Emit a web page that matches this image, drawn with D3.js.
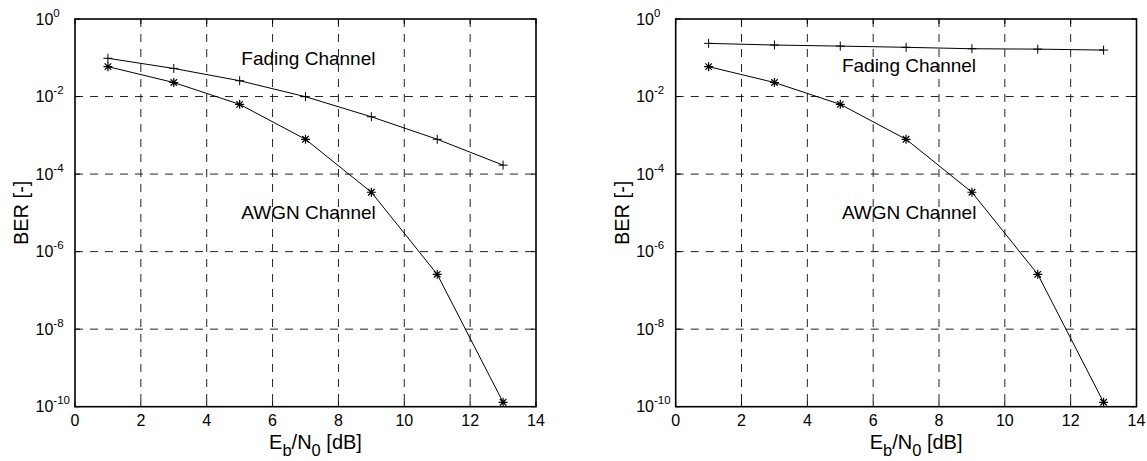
<!DOCTYPE html>
<html>
<head>
<meta charset="utf-8">
<script src="https://cdn.jsdelivr.net/npm/d3@7"></script>
<style>
  html, body { margin: 0; padding: 0; background: #fff; }
  svg { display: block; font-family: "Liberation Sans", Arial, sans-serif; }
</style>
</head>
<body>
<svg id="chart" width="1147" height="461"></svg>
<script>
// ---- data ----
const ebn0 = [1, 3, 5, 7, 9, 11, 13];
const awgnBer = [0.059, 0.023, 0.0063, 7.9e-4, 3.4e-5, 2.6e-7, 1.3e-10];
const fadingBerLeft = [0.097, 0.053, 0.0256, 0.0099, 0.0030, 7.9e-4, 1.7e-4];
const fadingBerRight = [0.235, 0.213, 0.200, 0.186, 0.171, 0.167, 0.158];
const xTicks = [0, 2, 4, 6, 8, 10, 12, 14];
const yTickExponents = [0, -2, -4, -6, -8, -10];
const labelFading = "Fading Channel";
const labelAwgn = "AWGN Channel";
// label anchor positions in data coordinates [x, y]
const fadingLabelPosLeft = [5.05, 0.065];
const fadingLabelPosRight = [5.05, 0.042];
const awgnLabelPos = [5.05, 6.9e-6];

const panels = [
  { left: 75, right: 536, fading: fadingBerLeft, fadingLabel: fadingLabelPosLeft },
  { left: 675.7, right: 1136.5, fading: fadingBerRight, fadingLabel: fadingLabelPosRight }
];
const plotTop = 19, plotBottom = 406.7;

const svg = d3.select("#chart");

const plusPath = r => `M${-r},0H${r}M0,${-r}V${r}`;
const starPath = r => {
  const d = r * 0.72;
  return `M${-r},0H${r}M0,${-r}V${r}M${-d},${-d}L${d},${d}M${-d},${d}L${d},${-d}`;
};

panels.forEach(p => {
  const x = d3.scaleLinear().domain([0, 14]).range([p.left, p.right]);
  const y = d3.scaleLog().domain([1e-10, 1]).range([plotBottom, plotTop]);
  const g = svg.append("g");

  // grid
  const grid = g.append("g").attr("stroke", "#222").attr("stroke-width", 1)
    .attr("stroke-dasharray", "8,7").attr("fill", "none");
  xTicks.filter(t => t > 0 && t < 14).forEach(t => {
    grid.append("line").attr("x1", x(t)).attr("x2", x(t))
      .attr("y1", plotTop).attr("y2", plotBottom);
  });
  yTickExponents.filter(e => e < 0 && e > -10).forEach(e => {
    grid.append("line").attr("x1", p.left).attr("x2", p.right)
      .attr("y1", y(Math.pow(10, e))).attr("y2", y(Math.pow(10, e)));
  });

  // inward tick marks
  const ticks = g.append("g").attr("stroke", "#000").attr("stroke-width", 1);
  xTicks.forEach(t => {
    ticks.append("line").attr("x1", x(t)).attr("x2", x(t)).attr("y1", plotBottom).attr("y2", plotBottom - 5);
    ticks.append("line").attr("x1", x(t)).attr("x2", x(t)).attr("y1", plotTop).attr("y2", plotTop + 5);
  });
  yTickExponents.forEach(e => {
    const yy = y(Math.pow(10, e));
    ticks.append("line").attr("x1", p.left).attr("x2", p.left + 5).attr("y1", yy).attr("y2", yy);
    ticks.append("line").attr("x1", p.right).attr("x2", p.right - 5).attr("y1", yy).attr("y2", yy);
  });

  // box
  g.append("rect").attr("x", p.left).attr("y", plotTop)
    .attr("width", p.right - p.left).attr("height", plotBottom - plotTop)
    .attr("fill", "none").attr("stroke", "#000").attr("stroke-width", 1.6);

  // x tick labels
  xTicks.forEach(t => {
    g.append("text").attr("x", x(t)).attr("y", plotBottom + 19.5)
      .attr("text-anchor", "middle").attr("font-size", 16).attr("fill", "#000")
      .text(t);
  });
  // y tick labels 10^e
  yTickExponents.forEach(e => {
    const yy = y(Math.pow(10, e));
    const t = g.append("text").attr("x", p.left - 39.5).attr("y", yy + 5.5)
      .attr("font-size", 16).attr("fill", "#000");
    t.append("tspan").text("10");
    t.append("tspan").attr("dy", -8).attr("font-size", 11.5).text(String(e));
  });

  // axis labels
  const xl = g.append("text").attr("x", (p.left + p.right) / 2 + 10).attr("y", plotBottom + 42)
    .attr("text-anchor", "middle").attr("font-size", 20).attr("fill", "#000");
  xl.append("tspan").text("E");
  xl.append("tspan").attr("dy", 7).attr("font-size", 16.5).text("b");
  xl.append("tspan").attr("dy", -7).text("/N");
  xl.append("tspan").attr("dy", 7).attr("font-size", 16.5).text("0");
  xl.append("tspan").attr("dy", -7).text(" [dB]");

  g.append("text")
    .attr("transform", `translate(${p.left - 47},${(plotTop + plotBottom) / 2}) rotate(-90)`)
    .attr("text-anchor", "middle").attr("font-size", 20).attr("fill", "#000")
    .text("BER [-]");

  // lines
  const line = d3.line().x(d => x(d[0])).y(d => y(d[1]));
  const awgn = ebn0.map((v, i) => [v, awgnBer[i]]);
  const fad = ebn0.map((v, i) => [v, p.fading[i]]);
  [awgn, fad].forEach(series => {
    g.append("path").attr("d", line(series)).attr("fill", "none")
      .attr("stroke", "#000").attr("stroke-width", 1);
  });
  fad.forEach(d => {
    g.append("path").attr("transform", `translate(${x(d[0])},${y(d[1])})`)
      .attr("d", plusPath(4.5)).attr("stroke", "#000").attr("stroke-width", 1).attr("fill", "none");
  });
  awgn.forEach(d => {
    g.append("path").attr("transform", `translate(${x(d[0])},${y(d[1])})`)
      .attr("d", starPath(4.5)).attr("stroke", "#000").attr("stroke-width", 1.2).attr("fill", "none");
  });

  // text labels
  g.append("text").attr("x", x(p.fadingLabel[0])).attr("y", y(p.fadingLabel[1]))
    .attr("font-size", 19).attr("fill", "#000").text(labelFading);
  g.append("text").attr("x", x(awgnLabelPos[0])).attr("y", y(awgnLabelPos[1]))
    .attr("font-size", 19).attr("fill", "#000").text(labelAwgn);
});
</script>
</body>
</html>
